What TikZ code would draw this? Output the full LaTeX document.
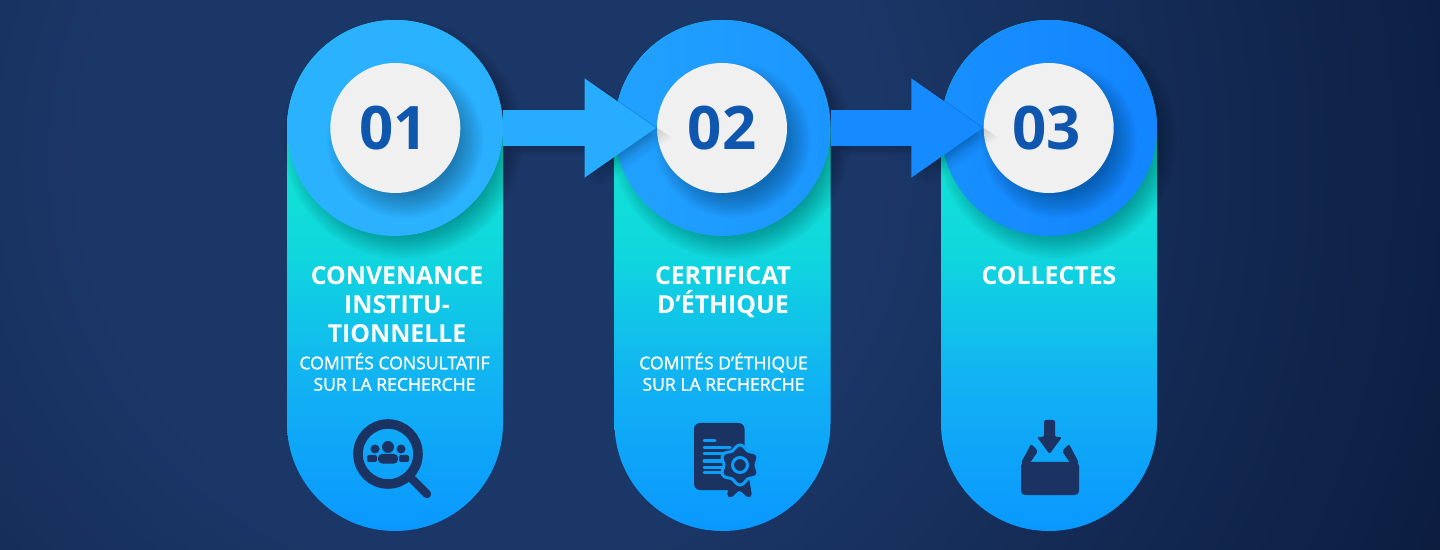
\documentclass[tikz,border=0pt]{standalone}
\usepackage{fontspec}
\setmainfont{Open Sans}
\usetikzlibrary{arrows.meta}
\definecolor{fondclair}{HTML}{1B3767}
\definecolor{fondsombre}{HTML}{0A1A3C}
\definecolor{marine}{HTML}{1A3363}
\definecolor{turquoise}{HTML}{11E2D2}
\definecolor{menthe}{HTML}{10D8DD}
\definecolor{lagon}{HTML}{11AEF5}
\definecolor{azur}{HTML}{0A98FF}
\definecolor{ciel}{HTML}{2BB2FF}
\definecolor{cielb}{HTML}{1F9DFF}
\definecolor{cielc}{HTML}{1285FF}
\definecolor{perle}{HTML}{F0F0F0}
\definecolor{chiffre}{HTML}{0F56AE}
\pgfdeclareradialshading{fondrond}{\pgfpoint{0bp}{0bp}}{color(0bp)=(fondclair); color(9bp)=(fondclair); color(25bp)=(fondsombre); color(50bp)=(fondsombre)}
\pgfdeclareverticalshading{degrade}{100bp}{color(0bp)=(azur); color(25bp)=(azur); color(38bp)=(lagon); color(52.5bp)=(menthe); color(62.5bp)=(turquoise); color(100bp)=(turquoise)}
\begin{document}
\begin{tikzpicture}[x=0.5pt,y=-0.5pt]
	\tikzstyle{pilule}=[rectangle,rounded corners=53.9pt,minimum width=108pt,minimum height=255.5pt,inner sep=0pt,shade,shading=degrade]
	\tikzstyle{disque}=[circle,minimum size=108pt,inner sep=0pt]
	\tikzstyle{pastille}=[circle,minimum size=65pt,inner sep=0pt,fill=perle,text=chiffre,font=\fontsize{30}{32}\selectfont\bfseries]
	\tikzstyle{titre}=[anchor=north,align=center,text=white,inner sep=0pt,font=\fontsize{12.4}{14.6}\selectfont\bfseries]
	\tikzstyle{soustitre}=[anchor=north,align=center,text=white,inner sep=0pt,font=\fontsize{8.8}{10.7}\selectfont\addfontfeature{FakeBold=1.2}]
	\tikzstyle{fleche}=[line width=18pt,-{Triangle[length=36pt,width=47pt]}]
	\tikzstyle{ombre}=[fill=black,opacity=.022]
	\tikzstyle{icone}=[fill=marine,draw=none]
	\tikzstyle{trait}=[draw=azur!90!turquoise,line width=1.5pt,line cap=round]
	\useasboundingbox (0,0) rectangle (1440,550);
	\begin{scope}
		\clip (0,0) rectangle (1440,550);
		\fill[fondclair] (0,0) rectangle (1440,550);
		\shade[shading=fondrond] (480,160) circle (1100);
	\end{scope}
	\node[pilule] (pil1) at (395,275.5) {};
	\node[pilule] (pil2) at (722.5,275.5) {};
	\node[pilule] (pil3) at (1049,275.5) {};
	\foreach \r in {96,98,...,120} {
		\fill[ombre] (403,139) circle (\r);
		\fill[ombre] (730.5,139) circle (\r);
		\fill[ombre] (1057,139) circle (\r);
	}
	\node[disque,left color=ciel,right color=ciel!92!cielb] (dis1) at (395,128) {};
	\node[disque,left color=cielb!80!ciel,right color=cielb!70!cielc] (dis2) at (722.5,128) {};
	\node[disque,left color=cielb!45!cielc,right color=cielc] (dis3) at (1049,128) {};
	\foreach \r in {54,56,...,78} {
		\fill[ombre] (405,140) circle (\r);
		\fill[ombre] (732.5,140) circle (\r);
		\fill[ombre] (1059,140) circle (\r);
	}
	\node[pastille] (num1) at (395.3,128) {01\hspace*{1.5pt}};
	\node[pastille] (num2) at (722,128) {02};
	\node[pastille] (num3) at (1048.7,128) {03\hspace*{2pt}};
	% fleches
	\foreach \d in {2,4,...,16} {
		\draw[fleche,draw=black,opacity=.018] ([shift={(\d,0.6*\d)}]dis1.east) -- ([shift={(\d,0.6*\d)}]num2.west);
		\draw[fleche,draw=black,opacity=.018] ([shift={(\d,0.6*\d)}]dis2.east) -- ([shift={(\d,0.6*\d)}]num3.west);
	}
	\draw[fleche,draw=ciel!70!cielb] (dis1.east) -- (num2.west);
	\draw[fleche,draw=cielc!75!cielb] (dis2.east) -- (num3.west);
	% textes
	\node[titre] (tit1) at (397,266) {CONVENANCE\\INSTITU-\\TIONNELLE};
	\node[soustitre] (sou1) at (394.5,352.5) {COMITÉS CONSULTATIF\\SUR LA RECHERCHE};
	\node[titre] (tit2) at (723,266) {CERTIFICAT\\D’ÉTHIQUE};
	\node[soustitre] (sou2) at (723.5,352.5) {COMITÉS D’ÉTHIQUE\\SUR LA RECHERCHE};
	\node[titre] (tit3) at (1049,266) {COLLECTES};
	% loupe
	\draw[marine,line width=4.8pt] (388,454) circle (30);
	\draw[marine,line width=4.2pt,line cap=round] (409,476) -- (427,494);
	\fill[icone] (388,447) circle (6);
	\fill[icone] (375,449) circle (4.5);
	\fill[icone] (401,449) circle (4.5);
	\fill[icone,rounded corners=2pt] (378,463.5) -- (378,454) -- (398,454) -- (398,463.5) -- cycle;
	\fill[icone,rounded corners=1pt] (367,462) -- (367,455) -- (377,455) -- (377,462) -- cycle;
	\fill[icone,rounded corners=1pt] (399,462) -- (399,455) -- (409,455) -- (409,462) -- cycle;
	% certificat
	\fill[icone,rounded corners=3pt] (694,423) rectangle (744.5,490);
	\draw[trait] (704,441) -- (715,441);
	\draw[trait] (704,447.5) -- (730,447.5);
	\draw[trait] (704,454) -- (728,454);
	\draw[trait] (704,461) -- (722,461);
	\draw[trait] (704,467) -- (722,467);
	\draw[trait] (704,472.5) -- (722,472.5);
	\fill[icone,rounded corners=1pt] (730,478) -- (727,496) -- (731,498) -- (739.5,490) -- (748,498) -- (752,496) -- (749,478) -- cycle;
	\draw[icone,draw=azur!90!turquoise,line width=1.5pt,smooth cycle,samples=48,domain=0:352.5] plot ({740+(18-2*cos(6*\x))*cos(\x)},{465+(18-2*cos(6*\x))*sin(\x)});
	\draw[azur!90!turquoise,line width=1.5pt] (740,465) circle (7.5);
	% collecte
	\fill[icone,rounded corners=1pt] (1044,420) -- (1055,420) -- (1055,437) -- (1062,437) -- (1049.5,454) -- (1037,437) -- (1044,437) -- cycle;
	\fill[icone,rounded corners=2pt] (1021,462) rectangle (1079,495);
	\fill[icone,rounded corners=1pt] (1021,463) -- (1031,444) -- (1038,451) -- (1030,463) -- cycle;
	\fill[icone,rounded corners=1pt] (1079,463) -- (1069,444) -- (1062,451) -- (1070,463) -- cycle;
\end{tikzpicture}
\end{document}
